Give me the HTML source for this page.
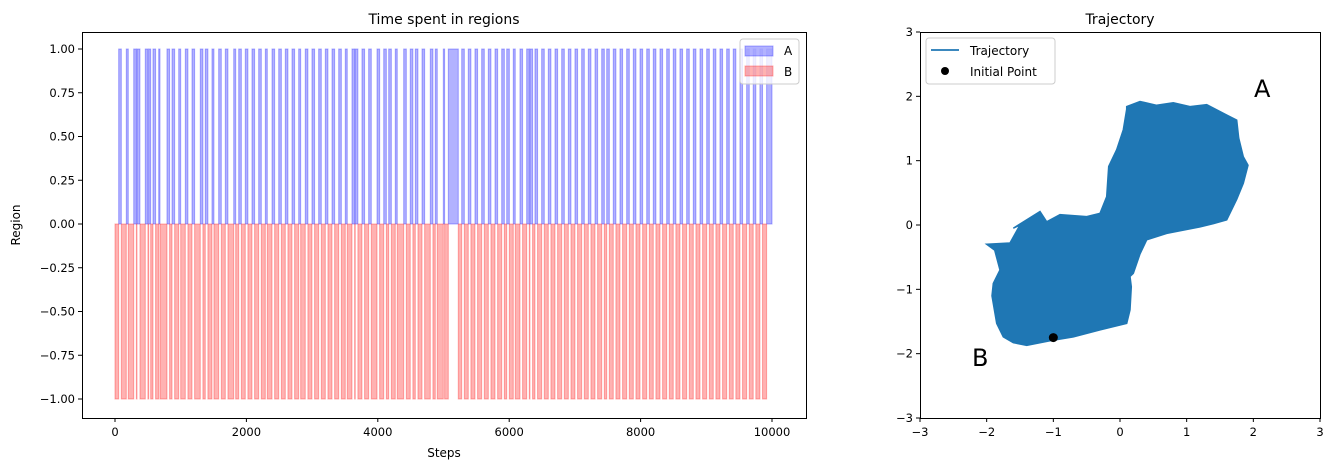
<!DOCTYPE html>
<html><head><meta charset="utf-8"><style>
body{margin:0;background:#fff;width:1336px;height:470px;overflow:hidden;font-family:"Liberation Sans","DejaVu Sans",sans-serif}
svg text{font-family:"DejaVu Sans","Liberation Sans",sans-serif}
</style></head><body>
<svg id="s" width="1336" height="470" xmlns="http://www.w3.org/2000/svg"></svg>
<script>
// ---- left chart data: start step of each visit to region A and its duration ----
const aStarts=[56,172,285,335,461,513,578,665,791,868,970,1070,1172,1298,1374,1476,1578,1679,1807,1883,1983,2085,2187,2288,2390,2492,2592,2694,2796,2896,2998,3100,3201,3303,3405,3505,3607,3657,3759,3861,3988,4090,4166,4266,4394,4494,4571,4673,4799,4875,4997,5073,5277,5377,5479,5581,5682,5784,5886,5962,6062,6164,6266,6316,6392,6494,6595,6697,6799,6900,7001,7103,7204,7306,7408,7484,7584,7686,7788,7889,7991,8093,8193,8295,8397,8497,8599,8701,8802,8904,9006,9106,9208,9310,9410,9512,9614,9714,9816,9918];
const aDurations=[40,30,40,45,40,30,40,20,40,40,30,40,40,40,40,30,40,40,30,40,40,40,40,30,40,40,40,40,30,40,40,40,40,40,40,30,40,40,40,40,40,40,40,30,40,40,40,40,40,30,20,152,40,40,40,40,40,40,40,40,30,40,40,40,40,40,40,40,40,40,40,40,40,40,40,40,40,40,40,40,40,40,40,40,40,40,40,40,40,40,40,40,40,40,40,40,40,40,40,82];
const totalSteps=10000;
const xTicks=[0,2000,4000,6000,8000,10000];
const yTicks=[1,0.75,0.5,0.25,0,-0.25,-0.5,-0.75,-1];
// ---- right chart data: trajectory envelope (x,y) ----
const trajX=[0.10,0.30,0.55,0.80,1.05,1.30,1.60,1.75,1.78,1.85,1.92,1.85,1.75,1.60,1.40,1.20,0.95,0.70,0.40,0.30,0.20,0.15,0.17,0.15,0.10,-0.10,-0.30,-0.70,-1.05,-1.40,-1.60,-1.75,-1.85,-1.92,-1.90,-1.80,-1.88,-2.00,-1.65,-1.50,-1.60,-1.20,-1.10,-0.90,-0.50,-0.30,-0.20,-0.17,-0.05,0.05,0.10];
const trajY=[1.84,1.92,1.86,1.90,1.84,1.87,1.71,1.63,1.35,1.06,0.93,0.65,0.40,0.08,0.02,-0.03,-0.08,-0.13,-0.23,-0.45,-0.75,-0.80,-0.96,-1.32,-1.53,-1.58,-1.63,-1.74,-1.80,-1.87,-1.83,-1.74,-1.53,-1.10,-0.91,-0.70,-0.39,-0.30,-0.28,0.00,-0.05,0.21,0.05,0.16,0.13,0.18,0.44,0.91,1.17,1.48,1.80];
const initX=[-1.0], initY=[-1.75];
const rTicks=[-3,-2,-1,0,1,2,3];

const NS="http://www.w3.org/2000/svg", S=document.getElementById('s');
function mk(t,a,p){const e=document.createElementNS(NS,t);for(const k in a)e.setAttribute(k,a[k]);(p||S).appendChild(e);return e;}
function tx(x,y,str,a){const e=mk('text',Object.assign({x:x,y:y,'font-size':12,fill:'#000'},a||{}));e.textContent=str;return e;}

// ===== left chart =====
const L={x0:82,x1:806,y0:32,y1:418};
const sx=v=>115+v*(772-115)/10000, sy=v=>224-v*175;
const gA=mk('g',{});


const gB=mk('g',{});


let prev=0;
aStarts.forEach((s,i)=>{
  const e=s+aDurations[i];
  if(s>prev){const r=mk('rect',{x:sx(prev),y:sy(0),width:sx(s)-sx(prev),height:sy(-1)-sy(0),fill:'rgba(255,0,0,0.3)',stroke:'rgba(255,0,0,0.3)','stroke-width':1},gB);
    
    }
  const r=mk('rect',{x:sx(s),y:sy(1),width:Math.max(0.8,sx(e)-sx(s)),height:sy(0)-sy(1),fill:'rgba(0,0,255,0.3)',stroke:'rgba(0,0,255,0.3)','stroke-width':1},gA);
  
  
  prev=e;
});
if(prev<totalSteps){const r=mk('rect',{x:sx(prev),y:sy(0),width:sx(totalSteps)-sx(prev),height:sy(-1)-sy(0),fill:'rgba(255,0,0,0.3)',stroke:'rgba(255,0,0,0.3)'},gB);
  
  }
const lf=mk('rect',{x:L.x0+0.5,y:L.y0+0.5,width:L.x1-L.x0,height:L.y1-L.y0,fill:'none',stroke:'#000','stroke-width':1});


xTicks.forEach(v=>{mk('line',{x1:sx(v),x2:sx(v),y1:L.y1,y2:L.y1+4,stroke:'#000'});
  const t=tx(sx(v),L.y1+18,String(v),{'text-anchor':'middle','font-size':11.5});
  
  });
yTicks.forEach(v=>{mk('line',{x1:L.x0-4,x2:L.x0,y1:sy(v),y2:sy(v),stroke:'#000'});
  const t=tx(L.x0-7,sy(v)+4,v.toFixed(2).replace('-','−'),{'text-anchor':'end','font-size':11.5});
  
  });
let t=tx(444,24,'Time spent in regions',{'text-anchor':'middle','font-size':14});


t=tx(444,457,'Steps',{'text-anchor':'middle','font-size':12});


t=tx(20,225,'Region',{'text-anchor':'middle','font-size':12,transform:'rotate(-90 20 225)'});


const lg=mk('g',{});


mk('rect',{x:740,y:39,width:59,height:45,rx:3,fill:'rgba(255,255,255,0.8)',stroke:'#ccc'},lg);
mk('rect',{x:745,y:46,width:28,height:10,fill:'rgba(0,0,255,0.3)',stroke:'rgba(0,0,255,0.3)'},lg);
mk('rect',{x:745,y:66,width:28,height:10,fill:'rgba(255,0,0,0.3)',stroke:'rgba(255,0,0,0.3)'},lg);
t=tx(784,55,'A',{'font-size':12},lg);


t=tx(784,76,'B',{'font-size':12},lg);



// ===== right chart =====
const R={x0:920,x1:1320,y0:32,y1:418};
const rx=v=>920+(v+3)*400/6, ry=v=>225-v*386/6;
let d='';trajX.forEach((v,i)=>{d+=(i?'L':'M')+rx(v).toFixed(1)+' '+ry(trajY[i]).toFixed(1);});d+='Z';
const tp=mk('path',{d:d,fill:'#1f77b4',stroke:'#1f77b4','stroke-width':1.5,'stroke-linejoin':'miter'});


const ip=mk('circle',{cx:rx(initX[0]),cy:ry(initY[0]),r:4.5,fill:'#000'});


const rf=mk('rect',{x:R.x0+0.5,y:R.y0+0.5,width:R.x1-R.x0,height:R.y1-R.y0,fill:'none',stroke:'#000'});


rTicks.forEach(v=>{mk('line',{x1:rx(v),x2:rx(v),y1:R.y1,y2:R.y1+4,stroke:'#000'});
  let a=tx(rx(v),R.y1+18,String(v).replace('-','−'),{'text-anchor':'middle','font-size':11.5});
  
  
  mk('line',{x1:R.x0-4,x2:R.x0,y1:ry(v),y2:ry(v),stroke:'#000'});
  a=tx(R.x0-7,ry(v)+4,String(v).replace('-','−'),{'text-anchor':'end','font-size':11.5});
  
  });
t=tx(1120,24,'Trajectory',{'text-anchor':'middle','font-size':14});


t=tx(1254,97,'A',{'font-size':24});


t=tx(972,366,'B',{'font-size':24});


const rg=mk('g',{});


mk('rect',{x:926,y:38,width:129,height:46,rx:3,fill:'rgba(255,255,255,0.8)',stroke:'#ccc'},rg);
mk('line',{x1:931,x2:959,y1:50,y2:50,stroke:'#1f77b4','stroke-width':1.8},rg);
mk('circle',{cx:945,cy:71,r:4,fill:'#000'},rg);
t=tx(970,55,'Trajectory',{'font-size':12},rg);


t=tx(970,76,'Initial Point',{'font-size':12},rg);


</script>
</body></html>
